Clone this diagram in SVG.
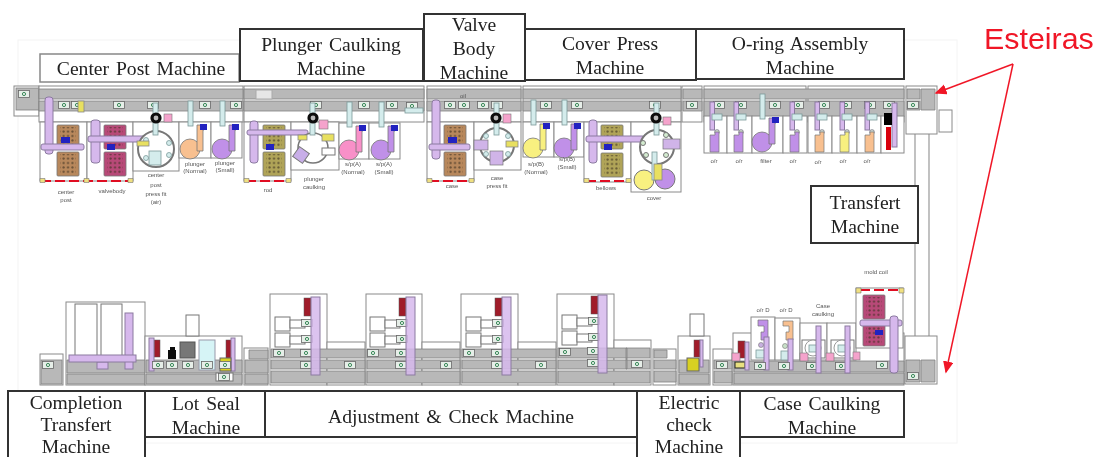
<svg xmlns="http://www.w3.org/2000/svg" width="1097" height="457" viewBox="0 0 1097 457">
<style>
.lb{fill:#fff;stroke:#333;stroke-width:2}
.big{font:19.6px "Liberation Serif",serif;fill:#222;text-anchor:middle;word-spacing:2px}
.sm{font:6px "Liberation Sans",sans-serif;fill:#555;text-anchor:middle}
.fr{fill:#fff;stroke:#8a8a8a;stroke-width:1}
.bn{fill:#b8b8b8;stroke:#808080;stroke-width:.8}
.pu{fill:#d6b8ec;stroke:#8b7aa0;stroke-width:1}
.cy{fill:#d4ecec;stroke:#7c9a9a;stroke-width:.8}
.pk{fill:#f5a3cc;stroke:#777;stroke-width:.6}
.ye{fill:#e8e060;stroke:#888;stroke-width:.8}
.bl{fill:#2020c0}
.rk{fill:#a01c2c;stroke:#555;stroke-width:.5}
.wh{fill:#fff;stroke:#777;stroke-width:1}
.rd{stroke:#e01020;stroke-width:1.8;stroke-dasharray:10 4;fill:none}
.ar{stroke:#f01828;stroke-width:1.5;fill:none;marker-end:url(#ah)}
</style>
<defs>
<filter id="soft" x="0" y="0" width="1" height="1" filterUnits="objectBoundingBox"><feGaussianBlur stdDeviation="0.4"/></filter>
<marker id="ah" markerWidth="9" markerHeight="9" refX="7" refY="3.5" orient="auto"><path d="M0,0L8,3.5L0,7Z" fill="#f01828"/></marker>
<pattern id="dots" width="4.4" height="4.4" patternUnits="userSpaceOnUse"><circle cx="2.2" cy="2.2" r="1.1" fill="#3c3020" fill-opacity=".65"/></pattern>
<g id="t"><rect x="-5.5" y="-3.5" width="11" height="7" fill="#e6eee8" stroke="#666" stroke-width=".8"/><circle r="1.6" fill="none" stroke="#3a8a5a" stroke-width="1"/></g>
<g id="pump"><rect x="-2" y="-48" width="5" height="25" class="cy"/><circle r="10" stroke="#777" stroke-width=".8"/><path d="M7,-24H14V-19H13V2H7Z" stroke="#777" stroke-width=".8"/><rect x="10" y="-25" width="7" height="6" class="bl"/></g>
<g id="tray"><rect width="22" height="24" rx="1" stroke="#777" stroke-width=".8"/><rect x="3" y="2" width="16" height="20" fill="url(#dots)"/></g>
<g id="ring"><circle r="4" fill="#bbb" stroke="#111" stroke-width="3.2"/></g>
<g id="oru"><rect x="-4" y="-24" width="4.5" height="28" class="pu"/><rect x="-2" y="-12" width="10" height="6" class="cy"/><circle cx="3" cy="6" r="2.4" fill="#cfd8cf" stroke="#667" stroke-width=".6"/><path d="M-4,9H1V6H5V26H-4Z" stroke="#777" stroke-width=".7"/></g>
<g id="sta"><rect x="5" y="23" width="15" height="14" class="wh"/><rect x="5" y="39" width="15" height="14" class="wh"/><rect x="20" y="26" width="15" height="8" class="wh"/><rect x="20" y="42" width="15" height="8" class="wh"/><rect x="34" y="4" width="7" height="18" class="rk"/><use href="#t" x="37" y="29"/><use href="#t" x="37" y="45"/><use href="#t" x="36" y="59"/><use href="#t" x="36" y="71"/><rect x="41" y="3" width="9" height="78" class="pu" fill-opacity=".85"/></g>
</defs>

<rect x="18" y="40" width="939" height="403" fill="#fff" stroke="#f4f4f4"/>

<g filter="url(#soft)">
<rect x="0" y="0" width="1097" height="457" fill="none"/>
<g id="top-conveyor">
<rect x="14" y="86" width="25" height="30" class="fr"/><rect x="16" y="88" width="23" height="22" class="bn"/><use href="#t" x="24" y="94"/>
<rect x="39" y="86" width="204" height="36" class="fr"/><rect x="244" y="86" width="180" height="36" class="fr"/><rect x="427" y="86" width="94" height="36" class="fr"/><rect x="523" y="86" width="158" height="36" class="fr"/><rect x="682" y="86" width="20" height="36" class="fr"/><rect x="704" y="86" width="102" height="36" class="fr"/><rect x="808" y="86" width="96" height="36" class="fr"/>
<path d="M39,89H243V99H39ZM39,101H243V111H39ZM244,89H424V99H244ZM244,101H424V111H244ZM427,89H521V99H427ZM427,101H521V111H427ZM523,89H681V99H523ZM523,101H681V111H523ZM683,89H702V99H683ZM683,101H702V111H683ZM704,89H904V99H704ZM704,101H904V117H704Z" class="bn"/>
<rect x="256" y="90" width="16" height="9" fill="#e6e6e6" stroke="#aaa"/>
</g>

<g id="center-post-machine">
<rect x="40" y="122" width="47" height="59" class="fr"/><rect x="87" y="122" width="46" height="59" class="fr"/><rect x="133" y="122" width="46" height="49" class="fr"/><rect x="179" y="122" width="32" height="36" class="fr"/><rect x="211" y="122" width="31" height="36" class="fr"/>
<use href="#t" x="64" y="105"/><use href="#t" x="119" y="105"/><use href="#t" x="153" y="105"/><use href="#t" x="205" y="105"/><use href="#t" x="236" y="105"/><use href="#t" x="77" y="105"/><rect x="78" y="101" width="6" height="11" class="ye"/>
<use href="#tray" x="57" y="125" fill="#b8885c"/><use href="#tray" x="57" y="152" fill="#b8885c"/>
<rect x="45" y="97" width="8" height="57" rx="3" class="pu"/><rect x="41" y="144" width="43" height="6" rx="2" class="pu"/><rect x="61" y="137" width="9" height="6" class="bl"/>
<use href="#tray" x="104" y="125" fill="#b84a78"/><use href="#tray" x="104" y="152" fill="#b84a78"/>
<rect x="91" y="120" width="9" height="43" rx="3" class="pu"/><rect x="88" y="136" width="58" height="6" rx="2" class="pu"/><rect x="107" y="144" width="8" height="6" class="bl"/>
<circle cx="156" cy="149" r="18" fill="#fff" stroke="#777" stroke-width="2"/><circle cx="146" cy="140" r="2.5" class="cy"/><circle cx="169" cy="143" r="2.5" class="cy"/><circle cx="169" cy="155" r="2.5" class="cy"/><circle cx="146" cy="158" r="2.5" class="cy"/>
<rect x="153" y="103" width="5" height="32" class="cy"/><use href="#ring" x="156" y="118"/><rect x="164" y="114" width="8" height="8" class="pk"/><rect x="149" y="151" width="12" height="14" class="cy"/><rect x="137" y="141" width="12" height="5" class="ye"/>
<use href="#pump" x="190" y="149" fill="#f8c090"/><use href="#pump" x="222" y="149" fill="#c090e8"/>
<path d="M41,181H132" class="rd"/><path d="M40,178.500h5v4h-5zM84,178.500h5v4h-5zM128,178.500h5v4h-5z" fill="#f0e080" stroke="#777" stroke-width=".6"/>
<text class="sm" x="66" y="194">center</text><text class="sm" x="66" y="202">post</text><text class="sm" x="112" y="193">valvebody</text><text class="sm" x="156" y="177">center</text><text class="sm" x="156" y="187">post</text><text class="sm" x="156" y="196">press fit</text><text class="sm" x="156" y="204">(air)</text><text class="sm" x="195" y="166">plunger</text><text class="sm" x="195" y="173">(Normal)</text><text class="sm" x="225" y="165">plunger</text><text class="sm" x="225" y="172">(Small)</text>
</g>

<g id="plunger-caulking-machine">
<rect x="244" y="122" width="47" height="59" class="fr"/><rect x="291" y="122" width="48" height="48" class="fr"/><rect x="339" y="123" width="30" height="36" class="fr"/><rect x="369" y="123" width="31" height="36" class="fr"/>
<use href="#t" x="316" y="105"/><use href="#t" x="364" y="105"/><use href="#t" x="392" y="105"/><use href="#t" x="412" y="106"/><rect x="405" y="108" width="18" height="5" class="cy"/>
<use href="#tray" x="263" y="125" fill="#b0a458"/><use href="#tray" x="263" y="152" fill="#b0a458"/>
<rect x="250" y="121" width="8" height="42" rx="3" class="pu"/><rect x="247" y="130" width="61" height="5" rx="2" class="pu"/><rect x="266" y="144" width="8" height="6" class="bl"/>
<circle cx="313" cy="148" r="15" fill="#fff" stroke="#777" stroke-width="1.5"/><rect x="310" y="103" width="5" height="32" class="cy"/><use href="#ring" x="313" y="118"/><rect x="319" y="120" width="9" height="9" class="pk"/><rect x="298" y="135" width="9" height="5" class="ye"/><rect x="322" y="134" width="12" height="7" class="ye"/><rect x="295" y="149" width="12" height="12" transform="rotate(35 301 155)" fill="#c8aee8" stroke="#777"/><rect x="322" y="148" width="13" height="7" class="wh"/>
<use href="#pump" x="349" y="150" fill="#f890c8"/><use href="#pump" x="381" y="150" fill="#c090e8"/>
<path d="M246,181H289" class="rd"/><path d="M244,178.500h5v4h-5zM286,178.500h5v4h-5z" fill="#f0e080" stroke="#777" stroke-width=".6"/>
<text class="sm" x="268" y="192">rod</text><text class="sm" x="314" y="181">plunger</text><text class="sm" x="314" y="189">caulking</text><text class="sm" x="353" y="166">s/p(A)</text><text class="sm" x="353" y="174">(Normal)</text><text class="sm" x="384" y="166">s/p(A)</text><text class="sm" x="384" y="174">(Small)</text>
</g>

<g id="valve-body-machine">
<rect x="427" y="122" width="47" height="59" class="fr"/><rect x="474" y="122" width="47" height="48" class="fr"/>
<text class="sm" x="463" y="98">oil</text>
<use href="#t" x="450" y="105"/><use href="#t" x="464" y="105"/><use href="#t" x="483" y="105"/><use href="#t" x="497" y="105"/>
<use href="#tray" x="444" y="125" fill="#b8885c"/><use href="#tray" x="444" y="152" fill="#b8885c"/>
<rect x="432" y="100" width="8" height="59" rx="3" class="pu"/><rect x="429" y="144" width="41" height="6" rx="2" class="pu"/><rect x="448" y="137" width="9" height="6" class="bl"/>
<circle cx="497" cy="145" r="17" fill="#fff" stroke="#777" stroke-width="2"/><circle cx="486" cy="136" r="2.5" class="cy"/><circle cx="508" cy="136" r="2.5" class="cy"/><circle cx="486" cy="154" r="2.500" class="cy"/><circle cx="508" cy="154" r="2.5" class="cy"/>
<rect x="494" y="103" width="5" height="32" class="cy"/><use href="#ring" x="496" y="118"/><rect x="503" y="114" width="8" height="9" class="pk"/><rect x="474" y="140" width="14" height="10" fill="#d0b4e8" stroke="#777" stroke-width=".7"/><rect x="490" y="151" width="13" height="14" fill="#d0b4e8" stroke="#777" stroke-width=".7"/><rect x="506" y="141" width="12" height="6" class="ye"/>
<path d="M429,181H472" class="rd"/><path d="M427,178.500h5v4h-5zM469,178.500h5v4h-5z" fill="#f0e080" stroke="#777" stroke-width=".6"/>
<text class="sm" x="452" y="188">case</text><text class="sm" x="497" y="180">case</text><text class="sm" x="497" y="188">press fit</text>
</g>

<g id="cover-press-machine">
<rect x="523" y="122" width="31" height="35" class="fr"/><rect x="554" y="122" width="30" height="35" class="fr"/><rect x="584" y="122" width="47" height="60" class="fr"/><rect x="631" y="122" width="50" height="70" class="fr"/>
<use href="#t" x="546" y="105"/><use href="#t" x="577" y="105"/><use href="#t" x="655" y="105"/><use href="#t" x="692" y="105"/>
<use href="#pump" x="533" y="148" fill="#f8f080"/><use href="#pump" x="564" y="148" fill="#c090e8"/>
<use href="#tray" x="601" y="125" fill="#b0a458"/><use href="#tray" x="601" y="153" fill="#b0a458"/>
<rect x="589" y="120" width="8" height="43" rx="3" class="pu"/><rect x="586" y="136" width="59" height="6" rx="2" class="pu"/><rect x="604" y="144" width="8" height="6" class="bl"/>
<circle cx="657" cy="147" r="17" fill="#fff" stroke="#777" stroke-width="2"/><circle cx="643" cy="143" r="2.500" fill="#d4ecd0" stroke="#777"/><circle cx="646" cy="155" r="2.500" fill="#d4ecd0" stroke="#777"/><circle cx="666" cy="135" r="2.500" fill="#d4ecd0" stroke="#777"/><circle cx="666" cy="155" r="2.500" fill="#d4ecd0" stroke="#777"/>
<rect x="654" y="103" width="5" height="32" class="cy"/><use href="#ring" x="656" y="118"/><rect x="663" y="117" width="8" height="8" class="pk"/><rect x="663" y="139" width="17" height="10" fill="#d0b4e8" stroke="#777" stroke-width=".7"/>
<circle cx="644" cy="180" r="10" fill="#f8f080" stroke="#777"/><circle cx="665" cy="179" r="10" fill="#c090e8" stroke="#777"/><rect x="652" y="152" width="5" height="28" class="cy"/><rect x="654" y="164" width="8" height="16" class="ye"/>
<path d="M586,181H629" class="rd"/><path d="M584,178.500h5v4h-5zM626,178.500h5v4h-5z" fill="#f0e080" stroke="#777" stroke-width=".6"/>
<text class="sm" x="536" y="166">s/p(B)</text><text class="sm" x="536" y="174">(Normal)</text><text class="sm" x="567" y="161">s/p(B)</text><text class="sm" x="567" y="169">(Small)</text><text class="sm" x="606" y="190">bellows</text><text class="sm" x="654" y="200">cover</text>
</g>

<g id="o-ring-assembly-machine">
<rect x="704" y="116" width="23" height="37" class="fr"/><rect x="727" y="116" width="25" height="37" class="fr"/><rect x="752" y="116" width="31" height="37" class="fr"/><rect x="783" y="116" width="24" height="37" class="fr"/><rect x="808" y="116" width="24" height="37" class="fr"/><rect x="832" y="116" width="25" height="37" class="fr"/><rect x="857" y="116" width="24" height="37" class="fr"/><rect x="881" y="116" width="23" height="37" class="fr"/>
<use href="#t" x="719" y="105"/><use href="#t" x="741" y="105"/><use href="#t" x="775" y="105"/><use href="#t" x="798" y="105"/><use href="#t" x="824" y="105"/><use href="#t" x="846" y="105"/><use href="#t" x="870" y="105"/><use href="#t" x="889" y="105"/>
<use href="#oru" x="714" y="126" fill="#c090e8"/><use href="#oru" x="738" y="126" fill="#c090e8"/><use href="#oru" x="794" y="126" fill="#c090e8"/><use href="#oru" x="819" y="126" fill="#f8c090"/><use href="#oru" x="844" y="126" fill="#f8f080"/><use href="#oru" x="869" y="126" fill="#f8c090"/>
<use href="#pump" x="762" y="142" fill="#c090e8"/>
<rect x="892" y="103" width="5" height="44" class="pu"/><rect x="884" y="113" width="8" height="12" fill="#000"/><rect x="886" y="127" width="5" height="23" fill="#d80010"/>
<text class="sm" x="714" y="163">o/r</text><text class="sm" x="739" y="163">o/r</text><text class="sm" x="766" y="163">filter</text><text class="sm" x="793" y="163">o/r</text><text class="sm" x="818" y="164">o/r</text><text class="sm" x="843" y="163">o/r</text><text class="sm" x="867" y="163">o/r</text>
</g>

<g id="transfer-machine">
<path d="M915,134V336M929,134V336" stroke="#999" stroke-width="1.200" fill="none"/>
<rect x="906" y="86" width="31" height="48" class="fr"/><path d="M907,89H920V99H907ZM907,101H920V110H907ZM921,89H935V110H921Z" class="bn"/><use href="#t" x="913" y="105"/><rect x="939" y="110" width="13" height="22" class="fr"/>
<rect x="905" y="336" width="32" height="48" class="fr"/><path d="M906,360H920V382H906ZM921,360H935V382H921Z" class="bn"/><use href="#t" x="913" y="376"/>
</g>

<g id="completion-transfert-machine">
<rect x="40" y="354" width="23" height="31" class="fr"/><rect x="41" y="360" width="21" height="24" class="bn"/><use href="#t" x="48" y="365"/>
<rect x="66" y="302" width="79" height="83" class="fr"/><path d="M67,360H145V373H67ZM67,374H145V384H67Z" class="bn"/>
<rect x="75" y="304" width="22" height="54" class="wh"/><rect x="101" y="304" width="21" height="54" class="wh"/>
<rect x="97" y="362" width="11" height="7" class="pu"/><rect x="125" y="313" width="8" height="56" class="pu"/><rect x="69" y="355" width="67" height="7" class="pu"/>
</g>

<g id="lot-seal-machine">
<rect x="145" y="336" width="97" height="49" class="fr"/><rect x="186" y="315" width="13" height="21" class="wh"/><path d="M146,360H242V373H146ZM146,374H242V384H146Z" class="bn"/>
<rect x="154" y="340" width="6" height="17" class="rk"/><rect x="149" y="338" width="5" height="33" class="pu"/><path d="M168,359V350H170V347H175V350H176V359Z" fill="#111"/><rect x="180" y="342" width="15" height="16" fill="#777" stroke="#555"/><rect x="199" y="340" width="16" height="30" fill="#d6f4f6" stroke="#99a"/><rect x="226" y="340" width="6" height="18" class="rk"/><rect x="231" y="338" width="4" height="33" class="pu"/>
<use href="#t" x="158" y="365"/><use href="#t" x="172" y="365"/><use href="#t" x="188" y="365"/><use href="#t" x="207" y="365"/><rect x="220" y="358" width="11" height="13" fill="#d8d020" stroke="#666"/><use href="#t" x="225" y="365"/><rect x="216" y="373" width="17" height="8" class="wh"/><use href="#t" x="224" y="377"/>
</g>

<g id="adjustment-check-machine">
<rect x="244" y="348" width="24" height="37" class="fr"/><path d="M249,350H268V359H249ZM245,360H268V373H245ZM245,374H268V384H245Z" class="bn"/>
<rect x="270" y="294" width="57" height="91" class="fr"/><rect x="327" y="342" width="38" height="43" class="fr"/><path d="M271,349H365V358H271ZM271,360H365V369H271ZM271,371H365V383H271Z" class="bn"/><use href="#sta" x="270" y="294"/><use href="#t" x="279" y="353"/><use href="#t" x="350" y="365"/>
<rect x="366" y="294" width="56" height="91" class="fr"/><rect x="422" y="342" width="38" height="43" class="fr"/><path d="M367,349H460V358H367ZM367,360H460V369H367ZM367,371H460V383H367Z" class="bn"/><use href="#sta" x="365" y="294"/><use href="#t" x="373" y="353"/><use href="#t" x="446" y="365"/>
<rect x="461" y="294" width="57" height="91" class="fr"/><rect x="518" y="342" width="38" height="43" class="fr"/><path d="M462,349H556V358H462ZM462,360H556V369H462ZM462,371H556V383H462Z" class="bn"/><use href="#sta" x="461" y="294"/><use href="#t" x="469" y="353"/><use href="#t" x="541" y="365"/>
<rect x="557" y="294" width="57" height="91" class="fr"/><rect x="614" y="340" width="37" height="45" class="fr"/><path d="M558,348H650V358H558ZM558,360H650V369H558ZM558,371H650V383H558ZM626,348H627V369H626Z" class="bn"/><use href="#sta" x="557" y="292"/><use href="#t" x="565" y="352"/><use href="#t" x="637" y="364"/>
</g>

<g id="electric-check-machine">
<rect x="653" y="349" width="23" height="36" class="fr"/><path d="M654,350H667V358H654ZM654,360H676V369H654ZM654,371H676V382H654Z" class="bn"/>
<rect x="678" y="336" width="32" height="49" class="fr"/><rect x="690" y="314" width="14" height="22" class="wh"/><path d="M679,360H709V373H679ZM679,374H709V384H679Z" class="bn"/>
<rect x="694" y="340" width="6" height="17" class="rk"/><rect x="700" y="340" width="3" height="27" class="pu"/><rect x="687" y="358" width="12" height="13" fill="#d8d020" stroke="#666"/>
<rect x="713" y="349" width="19" height="36" class="fr"/><path d="M714,360H732V369H714ZM714,371H732V383H714Z" class="bn"/><use href="#t" x="722" y="365"/>
</g>

<g id="case-caulking-machine">
<rect x="733" y="333" width="171" height="52" class="fr"/><rect x="751" y="317" width="24" height="43" class="fr"/><rect x="775" y="318" width="25" height="42" class="fr"/><rect x="800" y="323" width="27" height="37" class="fr"/><rect x="827" y="323" width="29" height="37" class="fr"/><rect x="856" y="288" width="47" height="60" class="fr"/>
<path d="M734,361H904V372H734ZM734,373H904V384H734Z" class="bn"/>
<rect x="738" y="341" width="7" height="17" class="rk"/><rect x="735" y="362" width="10" height="6" fill="#e8e080" stroke="#222"/><rect x="745" y="342" width="4" height="28" class="pu"/><rect x="732" y="353" width="8" height="8" class="pk"/>
<path d="M758,320H768V340H761V332H764V326H758Z" fill="#c090e8" stroke="#777" stroke-width=".7"/><circle cx="761" cy="345" r="2.500" fill="#c8b0e0" stroke="#777" stroke-width=".6"/><rect x="756" y="350" width="11" height="8" class="cy"/><rect x="764" y="337" width="5" height="33" class="pu"/><use href="#t" x="760" y="366"/>
<path d="M783,321H793V340H786V332H789V326H783Z" fill="#f8c090" stroke="#777" stroke-width=".7"/><circle cx="785" cy="346" r="2.500" fill="#c8e0c8" stroke="#777" stroke-width=".6"/><rect x="781" y="351" width="11" height="9" class="cy"/><rect x="788" y="339" width="5" height="31" class="pu"/><use href="#t" x="784" y="366"/>
<rect x="802" y="340" width="23" height="18" class="wh"/><circle cx="813" cy="348" r="8" fill="#fff" stroke="#999"/><rect x="809" y="345" width="8" height="7" class="cy"/><rect x="831" y="340" width="23" height="18" class="wh"/><circle cx="842" cy="348" r="8" fill="#fff" stroke="#999"/><rect x="838" y="345" width="8" height="7" class="cy"/>
<use href="#t" x="812" y="366"/><use href="#t" x="841" y="366"/><use href="#t" x="882" y="365"/>
<rect x="816" y="326" width="5" height="47" class="pu"/><rect x="845" y="326" width="5" height="47" class="pu"/><rect x="800" y="353" width="8" height="8" class="pk"/><rect x="826" y="353" width="8" height="8" class="pk"/><rect x="853" y="352" width="7" height="8" class="pk"/>
<use href="#tray" x="863" y="295" fill="#b84a78"/><use href="#tray" x="863" y="322" fill="#b84a78"/><rect x="875" y="330" width="8" height="5" class="bl"/>
<path d="M860,290H900" class="rd"/><path d="M856,288h5v5h-5zM899,288h5v5h-5z" fill="#f0e080" stroke="#777" stroke-width=".6"/>
<rect x="860" y="320" width="42" height="6" rx="2" class="pu"/><rect x="890" y="316" width="8" height="57" rx="3" class="pu"/>
<text class="sm" x="763" y="312">o/r D</text><text class="sm" x="786" y="312">o/r D</text><text class="sm" x="823" y="308">Case</text><text class="sm" x="823" y="316">caulking</text><text class="sm" x="876" y="274">mold coil</text>
</g>

<g id="labels">
<rect x="40" y="54" width="199" height="28" fill="#fff" stroke="#888" stroke-width="1.500"/><text class="big" x="141" y="75">Center Post Machine</text>
<rect x="240" y="29" width="183" height="52" class="lb"/><text class="big" x="331" y="51">Plunger Caulking</text><text class="big" x="331" y="75">Machine</text>
<rect x="424" y="14" width="101" height="67" class="lb"/><text class="big" x="474" y="31">Valve</text><text class="big" x="474" y="55">Body</text><text class="big" x="474" y="79">Machine</text>
<rect x="525" y="29" width="171" height="51" class="lb"/><text class="big" x="610" y="50">Cover Press</text><text class="big" x="610" y="74">Machine</text>
<rect x="696" y="29" width="208" height="50" class="lb"/><text class="big" x="800" y="50">O-ring Assembly</text><text class="big" x="800" y="74">Machine</text>
<rect x="811" y="186" width="107" height="57" class="lb"/><text class="big" x="865" y="209">Transfert</text><text class="big" x="865" y="233">Machine</text>
<rect x="8" y="391" width="137" height="70" class="lb"/><text class="big" x="76" y="409">Completion</text><text class="big" x="76" y="431">Transfert</text><text class="big" x="76" y="452.500">Machine</text>
<rect x="145" y="391" width="120" height="46" class="lb"/><text class="big" x="206" y="410">Lot Seal</text><text class="big" x="206" y="434">Machine</text>
<rect x="265" y="391" width="372" height="46" class="lb"/><text class="big" x="451" y="423">Adjustment &amp; Check Machine</text>
<rect x="637" y="391" width="103" height="70" class="lb"/><text class="big" x="689" y="409">Electric</text><text class="big" x="689" y="431">check</text><text class="big" x="689" y="452.500">Machine</text>
<rect x="740" y="391" width="164" height="46" class="lb"/><text class="big" x="822" y="410">Case Caulking</text><text class="big" x="822" y="434">Machine</text>
</g>

<g id="esteiras"><text x="984" y="49" font-family="Liberation Sans, sans-serif" font-size="30.400" fill="#f01828">Esteiras</text></g>
<g id="connectors"><path d="M1013,64L936,93" class="ar"/><path d="M1013,64L946,372" class="ar"/></g>
</g>
</svg>
